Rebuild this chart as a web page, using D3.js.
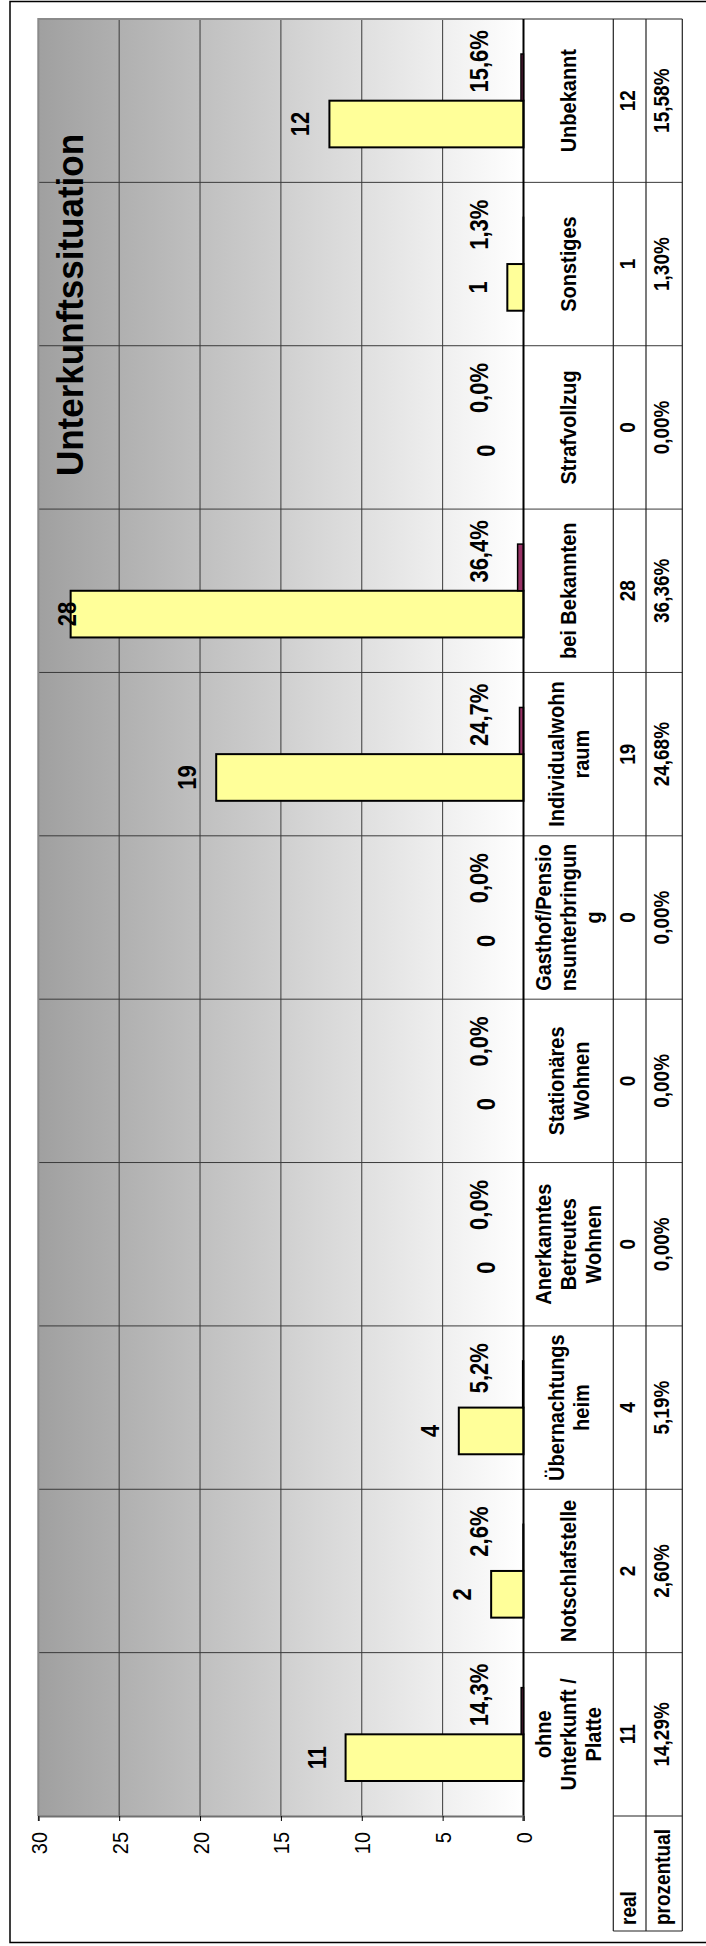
<!DOCTYPE html>
<html>
<head>
<meta charset="utf-8">
<script src="https://cdn.jsdelivr.net/npm/d3@7"></script>
<style>
  html, body { margin: 0; padding: 0; background: #fff; }
  svg { display: block; }
  text { font-family: "Liberation Sans", Arial, sans-serif; fill: #000; }
</style>
</head>
<body>
<svg id="chart" width="706" height="1946"></svg>
<script>
// ---------------- data ----------------
const title = "Unterkunftssituation";
const categories = [
  "ohne\nUnterkunft /\nPlatte",
  "Notschlafstelle",
  "Übernachtungs\nheim",
  "Anerkanntes\nBetreutes\nWohnen",
  "Stationäres\nWohnen",
  "Gasthof/Pensio\nnsunterbringun\ng",
  "Individualwohn\nraum",
  "bei Bekannten",
  "Strafvollzug",
  "Sonstiges",
  "Unbekannt"
];
const realValues = [11, 2, 4, 0, 0, 0, 19, 28, 0, 1, 12];
const percentValues = [0.1429, 0.0260, 0.0519, 0, 0, 0, 0.2468, 0.3636, 0, 0.0130, 0.1558];
const seriesNames = ["real", "prozentual"];
const valueTicks = [0, 5, 10, 15, 20, 25, 30];

// ---------------- layout ----------------
const W = 706, H = 1946;
const plotLeft = 38.3, plotRight = 523.5, plotTop = 19, plotBottom = 1816;
const colCatRight = 613.3, colRealRight = 646, tableRight = 682.3, tableBottom = 1931;
const STRETCH = 1.12;
const LABEL_STRETCH = 1.2;
const FONT = '"Liberation Sans", Arial, sans-serif';

const svg = d3.select("#chart");

const x = d3.scaleLinear().domain([0, 30]).range([plotRight, plotLeft]);
const y = d3.scaleBand()
  .domain(categories.map((c, i) => i).reverse())
  .range([plotTop, plotBottom]);
const inner = d3.scaleBand()
  .domain(["prozentual", "real"])
  .range([0, y.bandwidth()])
  .paddingOuter(0.75);

function rotText(sel, tx, ty, s) {
  const st = s || STRETCH;
  return sel.attr("transform", (d, i) => {
    const X = typeof tx === "function" ? tx(d, i) : tx;
    const Y = typeof ty === "function" ? ty(d, i) : ty;
    return `translate(${X},${Y}) rotate(-90) scale(1,${st})`;
  });
}

// outer frame
svg.append("rect")
  .attr("x", 10).attr("y", 1.5)
  .attr("width", 720).attr("height", 1941)
  .attr("fill", "#fff").attr("stroke", "#000").attr("stroke-width", 1.5);

// gradient background
const defs = svg.append("defs");
const grad = defs.append("linearGradient").attr("id", "bg")
  .attr("x1", "0").attr("x2", "1").attr("y1", "0").attr("y2", "0");
grad.append("stop").attr("offset", "0%").attr("stop-color", "#a0a0a0");
grad.append("stop").attr("offset", "100%").attr("stop-color", "#ffffff");

svg.append("rect")
  .attr("x", plotLeft).attr("y", plotTop)
  .attr("width", plotRight - plotLeft).attr("height", plotBottom - plotTop)
  .attr("fill", "url(#bg)");

// value gridlines
svg.append("g").selectAll("line")
  .data(valueTicks.filter(t => t > 0 && t < 30))
  .join("line")
  .attr("x1", d => x(d)).attr("x2", d => x(d))
  .attr("y1", plotTop).attr("y2", plotBottom)
  .attr("stroke", "#3a3a3a").attr("stroke-width", 1);

// category separators (across plot and table)
const bounds = d3.range(1, categories.length).map(i => y(i) + y.bandwidth());
svg.append("g").selectAll("line")
  .data(bounds)
  .join("line")
  .attr("x1", plotLeft).attr("x2", tableRight)
  .attr("y1", d => d).attr("y2", d => d)
  .attr("stroke", "#3a3a3a").attr("stroke-width", 1);

// plot border (gray) top/left
svg.append("path")
  .attr("d", `M${plotRight},${plotTop}H${plotLeft}V${plotBottom}`)
  .attr("fill", "none").attr("stroke", "#8a8a8a").attr("stroke-width", 2);

// table lines
const tbl = svg.append("g").attr("stroke", "#222").attr("stroke-width", 1.2).attr("fill", "none");
tbl.append("line").attr("x1", plotRight).attr("x2", tableRight).attr("y1", plotTop).attr("y2", plotTop);
[colCatRight, colRealRight, tableRight].forEach(cx => {
  tbl.append("line").attr("x1", cx).attr("x2", cx).attr("y1", plotTop).attr("y2", tableBottom);
});
tbl.append("line").attr("x1", colCatRight).attr("x2", tableRight).attr("y1", plotBottom).attr("y2", plotBottom);
tbl.append("line").attr("x1", colCatRight).attr("x2", tableRight).attr("y1", tableBottom).attr("y2", tableBottom);

// bars: real
const gBars = svg.append("g");
gBars.selectAll("rect.real")
  .data(realValues)
  .join("rect").attr("class", "real")
  .attr("x", d => x(d)).attr("width", d => plotRight - x(d))
  .attr("y", (d, i) => y(i) + inner("real")).attr("height", inner.bandwidth())
  .attr("fill", "#ffff99").attr("stroke", "#000").attr("stroke-width", 2)
  .style("display", d => d > 0 ? null : "none");
// bars: percent
gBars.selectAll("rect.pct")
  .data(percentValues)
  .join("rect").attr("class", "pct")
  .attr("x", d => x(d)).attr("width", d => plotRight - x(d))
  .attr("y", (d, i) => y(i) + inner("prozentual")).attr("height", inner.bandwidth())
  .attr("fill", "#993366").attr("stroke", "#000").attr("stroke-width", 1.5)
  .style("display", d => d > 0 ? null : "none");

// category axis line (zero)
svg.append("line")
  .attr("x1", plotRight).attr("x2", plotRight)
  .attr("y1", plotTop).attr("y2", plotBottom + 5)
  .attr("stroke", "#000").attr("stroke-width", 2);

// value axis at bottom
const axis = d3.axisBottom(x).tickValues(valueTicks).tickSize(5).tickFormat(d3.format("d"));
const gAxis = svg.append("g").attr("transform", `translate(0,${plotBottom})`).call(axis);
gAxis.select(".domain").attr("stroke", "#707070").attr("stroke-width", 2);
gAxis.selectAll(".tick line").attr("stroke", "#000");
gAxis.selectAll(".tick text")
  .attr("font-family", FONT).attr("font-size", 20)
  .attr("text-anchor", "end").attr("dy", null).attr("y", null)
  .attr("transform", `translate(8,16) rotate(-90) scale(1,${STRETCH})`);

// data labels: real
const lblReal = svg.append("g").selectAll("text")
  .data(realValues)
  .join("text")
  .attr("font-size", 22).attr("font-weight", "bold").attr("text-anchor", "middle")
  .text(d => d3.format("d")(d));
rotText(lblReal,
  d => Math.min(Math.max(x(d) - 20, plotLeft + 38), 495),
  (d, i) => y(i) + inner("real") + inner.bandwidth() / 2, LABEL_STRETCH);

// data labels: percent
const fmt1 = v => (v * 100).toFixed(1).replace(".", ",") + "%";
const lblPct = svg.append("g").selectAll("text")
  .data(percentValues)
  .join("text")
  .attr("font-size", 22).attr("font-weight", "bold").attr("text-anchor", "middle")
  .text(d => fmt1(d));
rotText(lblPct,
  () => 488,
  (d, i) => y(i) + inner("prozentual") + inner.bandwidth() / 2 - 16, LABEL_STRETCH);

// category labels (table column)
const catCenterX = (plotRight + colCatRight) / 2;
const gCat = svg.append("g");
categories.forEach((c, i) => {
  const lines = c.split("\n");
  const n = lines.length;
  lines.forEach((ln, k) => {
    gCat.append("text")
      .attr("font-size", 20).attr("font-weight", "bold").attr("text-anchor", "middle")
      .attr("transform", `translate(${catCenterX + (k - (n - 1) / 2) * 25 + 8},${y(i) + y.bandwidth() / 2}) rotate(-90) scale(1,${STRETCH})`)
      .text(ln);
  });
});

// table values
const fmt2 = v => (v * 100).toFixed(2).replace(".", ",") + "%";
const realRowX = (colCatRight + colRealRight) / 2 + 5;
const pctRowX = (colRealRight + tableRight) / 2 + 5;
const tReal = svg.append("g").selectAll("text").data(realValues).join("text")
  .attr("font-size", 19).attr("font-weight", "bold").attr("text-anchor", "middle")
  .text(d => d3.format("d")(d));
rotText(tReal, () => realRowX, (d, i) => y(i) + y.bandwidth() / 2);
const tPct = svg.append("g").selectAll("text").data(percentValues).join("text")
  .attr("font-size", 19).attr("font-weight", "bold").attr("text-anchor", "middle")
  .text(d => fmt2(d));
rotText(tPct, () => pctRowX, (d, i) => y(i) + y.bandwidth() / 2);

// series names
const tNames = svg.append("g").selectAll("text").data(seriesNames).join("text")
  .attr("font-size", 19).attr("font-weight", "bold").attr("text-anchor", "start")
  .text(d => d);
rotText(tNames, (d, i) => i === 0 ? realRowX + 1 : pctRowX + 1, tableBottom - 6);

// title
svg.append("text")
  .attr("font-size", 35).attr("font-weight", "bold").attr("text-anchor", "middle")
  .attr("transform", `translate(83,305) rotate(-90) scale(1,1.08)`)
  .text(title);
</script>
</body>
</html>
